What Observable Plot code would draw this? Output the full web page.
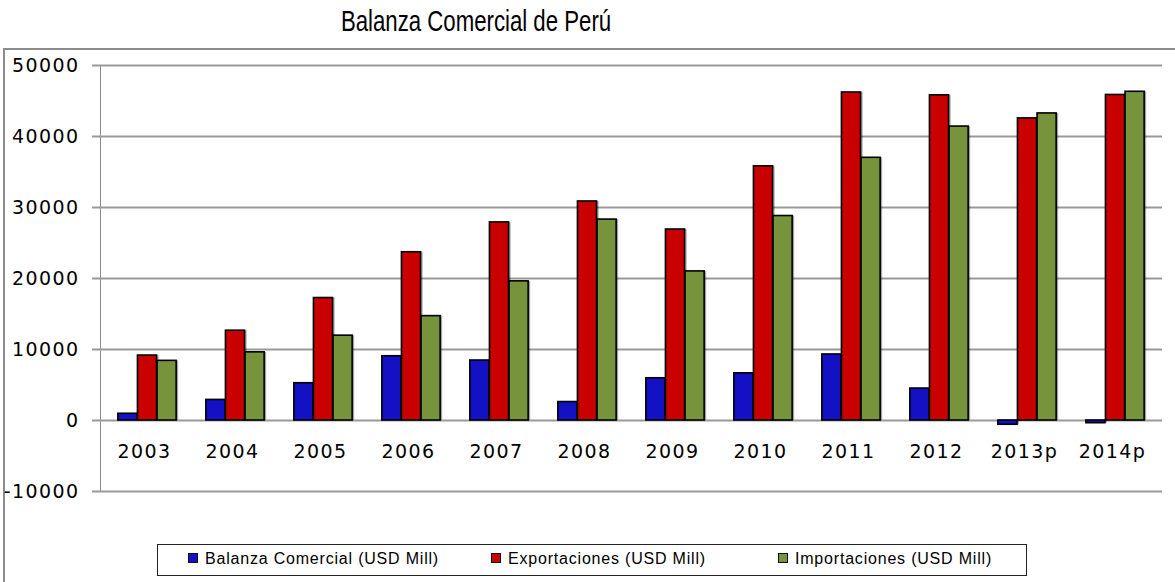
<!DOCTYPE html>
<html>
<head>
<meta charset="utf-8">
<script src="https://cdn.jsdelivr.net/npm/d3@7"></script>
<script src="https://cdn.jsdelivr.net/npm/@observablehq/plot@0.6"></script>
<style>
  html, body { margin: 0; padding: 0; background: #fff; }
  #root { position: relative; width: 1175px; height: 582px; overflow: hidden; background: #fff; }
  #title { position: absolute; left: 476px; top: 4px; white-space: nowrap;
    font-family: "Liberation Sans", Arial, sans-serif; font-size: 30px; color: #000;
    transform: translateX(-50%) scaleX(0.74); transform-origin: center; }
  #frame { position: absolute; left: 3px; top: 48px; width: 1172px; height: 540px;
    border-top: 2px solid #8c8c8c; border-left: 2px solid #8c8c8c; box-sizing: border-box; }
  #chart { position: absolute; left: 0; top: 51px; }
  #chart svg text { fill: #000; letter-spacing: 1.4px; }
  #legend { position: absolute; left: 157px; top: 544px; width: 870px; height: 32px;
    border: 1.5px solid #222; box-sizing: border-box; background: #fff;
    font-family: "Liberation Sans", Arial, sans-serif; font-size: 16px; letter-spacing: 0.8px; color: #000; }
  .item { position: absolute; top: 5px; white-space: nowrap; }
  .sw { display: inline-block; width: 8px; height: 8px; border: 1px solid #111; margin-right: 7px; vertical-align: 1px; }
</style>
</head>
<body>
<div id="root">
  <div id="title">Balanza Comercial de Perú</div>
  <div id="frame"></div>
  <div id="chart"></div>
  <div id="legend"></div>
</div>
<script>
const years = ["2003","2004","2005","2006","2007","2008","2009","2010","2011","2012","2013p","2014p"];
const balanza = [950, 2900, 5250, 9050, 8450, 2600, 5950, 6650, 9300, 4500, -600, -380];
const exportaciones = [9150, 12650, 17250, 23700, 27900, 30850, 26900, 35800, 46200, 45800, 42550, 45850];
const importaciones = [8400, 9600, 11950, 14700, 19600, 28300, 21000, 28800, 37000, 41400, 43250, 46300];
const seriesNames = ["Balanza Comercial (USD Mill)", "Exportaciones (USD Mill)", "Importaciones (USD Mill)"];
const seriesColors = ["#1410c4", "#c80000", "#77933c"];
const yTicks = [-10000, 0, 10000, 20000, 30000, 40000, 50000];

const seriesValues = [balanza, exportaciones, importaciones];
const data = [];
seriesValues.forEach((vals, s) => vals.forEach((v, i) => data.push({year: years[i], series: seriesNames[s], s, value: v})));

const W = 1175, mL = 100, mR = 13;
const band = (W - mL - mR) / years.length;
const barW = 19.6;
const off = (band - 3 * barW) / 2;

const barMarks = [];
seriesNames.forEach((name, s) => {
  const d = data.filter(r => r.s === s);
  const insetLeft = off + s * barW;
  const insetRight = band - insetLeft - barW;
  barMarks.push(Plot.barY(d, {x: "year", y: "value", fill: "#000", fillOpacity: 0.35,
    insetLeft, insetRight, dx: 2, dy: 0}));
  barMarks.push(Plot.barY(d, {x: "year", y: "value", fill: seriesColors[s], stroke: "#000", strokeWidth: 1.6,
    insetLeft, insetRight}));
});

const plot = Plot.plot({
  width: W,
  height: 470,
  marginLeft: mL,
  marginRight: mR,
  marginTop: 14,
  marginBottom: 30,
  style: {fontFamily: "DejaVu Sans, Verdana, sans-serif", fontSize: "19px", color: "#8c8c8c", background: "transparent", overflow: "visible"},
  x: {domain: years, padding: 0, axis: null},
  y: {domain: [-10000, 50000], ticks: yTicks, tickFormat: d => d.toString(), tickSize: 0, tickPadding: 21, label: null, line: true},
  marks: [
    Plot.ruleY(yTicks, {stroke: "#999", strokeWidth: 2, insetLeft: -8}),
    ...barMarks,
    Plot.text(years, {x: d => d, y: () => 0, dy: 31, dx: -3, fill: "#000", fontSize: 19})
  ]
});
document.getElementById("chart").appendChild(plot);
plot.querySelectorAll('g[aria-label="y-axis"] path, g[aria-label="y-axis line"] path').forEach(p => { p.setAttribute("stroke-width", 2); });

const legend = document.getElementById("legend");
const legendLeft = [30, 333, 620];
seriesNames.forEach((name, s) => {
  const it = document.createElement("div");
  it.className = "item";
  it.style.left = legendLeft[s] + "px";
  it.innerHTML = `<span class="sw" style="background:${seriesColors[s]}"></span>${name}`;
  legend.appendChild(it);
});
</script>
</body>
</html>
